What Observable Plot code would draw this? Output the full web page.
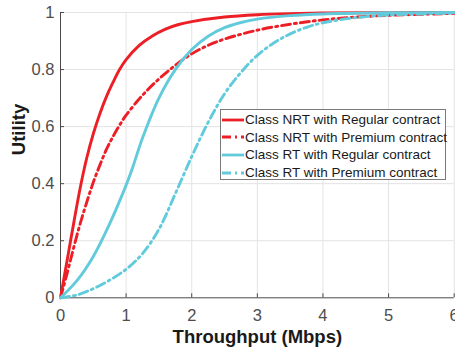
<!DOCTYPE html>
<html>
<head>
<meta charset="utf-8">
<script src="https://cdn.jsdelivr.net/npm/d3@7"></script>
<script src="https://cdn.jsdelivr.net/npm/@observablehq/plot@0.6"></script>
<style>
  html, body { margin: 0; padding: 0; background: #fff; }
  #wrap { position: relative; width: 455px; height: 348px; overflow: hidden; font-family: "Liberation Sans", Arial, sans-serif; }
  #legend { position: absolute; left: 220px; top: 109px; width: 226px; height: 71px; border: 1px solid #7a7a7a; background: #fff; box-sizing: border-box; padding-top: 1px; }
  .row { display: flex; align-items: center; height: 17.6px; font-size: 13.5px; color: #1a1a1a; white-space: nowrap; }
  .row svg { flex: none; margin-right: 1px; }
</style>
</head>
<body>
<div id="wrap"></div>
<script>
// Series names
const seriesNames = [
  "Class NRT with Regular contract",
  "Class NRT with Premium contract",
  "Class RT with Regular contract",
  "Class RT with Premium contract"
];
const seriesColors = ["#ed1f26", "#ed1f26", "#62cbdb", "#62cbdb"];
const seriesDash = [null, "9,4,2,4", null, "9,4,2,4"];

// NRT Regular
const nrtRegX = [0, 0.1, 0.2, 0.3, 0.4, 0.5, 0.6, 0.7, 0.8, 0.9, 1.0, 1.2, 1.4, 1.6, 1.8, 2.0, 2.5, 3, 3.5, 4, 5, 6];
const nrtRegY = [0, 0.13, 0.26, 0.385, 0.49, 0.575, 0.645, 0.705, 0.755, 0.80, 0.835, 0.885, 0.918, 0.942, 0.958, 0.968, 0.984, 0.992, 0.996, 0.998, 0.9995, 1.0];
// NRT Premium
const nrtPremX = [0, 0.1, 0.2, 0.3, 0.4, 0.5, 0.6, 0.7, 0.8, 0.9, 1.0, 1.25, 1.5, 1.75, 2, 2.25, 2.5, 3, 3.5, 4, 4.5, 5, 6];
const nrtPremY = [0, 0.085, 0.175, 0.26, 0.335, 0.405, 0.465, 0.52, 0.565, 0.605, 0.64, 0.71, 0.767, 0.815, 0.855, 0.885, 0.907, 0.938, 0.959, 0.974, 0.984, 0.99, 0.997];
// RT Regular
const rtRegX = [0, 0.25, 0.5, 0.75, 1, 1.1, 1.25, 1.5, 1.75, 2, 2.25, 2.5, 2.75, 3, 3.5, 4, 5, 6];
const rtRegY = [0, 0.06, 0.145, 0.26, 0.395, 0.457, 0.56, 0.70, 0.80, 0.87, 0.917, 0.947, 0.965, 0.977, 0.989, 0.995, 0.999, 1.0];
// RT Premium
const rtPremX = [0, 0.25, 0.5, 0.75, 1, 1.25, 1.5, 1.75, 2, 2.25, 2.5, 2.75, 3, 3.25, 3.5, 3.75, 4, 4.5, 5, 6];
const rtPremY = [0, 0.01, 0.032, 0.062, 0.10, 0.155, 0.24, 0.365, 0.495, 0.615, 0.715, 0.79, 0.85, 0.893, 0.925, 0.948, 0.964, 0.982, 0.991, 0.998];

const xTicks = [0, 1, 2, 3, 4, 5, 6];
const yTicks = [0, 0.2, 0.4, 0.6, 0.8, 1];
const yTickLabels = ["0", "0.2", "0.4", "0.6", "0.8", "1"];
const xLabel = "Throughput (Mbps)";
const yLabel = "Utility";

const seriesXs = [nrtRegX, nrtPremX, rtRegX, rtPremX];
const seriesYs = [nrtRegY, nrtPremY, rtRegY, rtPremY];
const data = seriesNames.map((name, i) => seriesXs[i].map((x, j) => ({x, y: seriesYs[i][j], name})));

const gridColor = "#e3e3e3";
const axisColor = "#4a4a4a";
const tickTextColor = "#4d4d4d";

const lineMarks = data.map((d, i) => Plot.line(d, {
  x: "x", y: "y", stroke: seriesColors[i], strokeWidth: 2.9,
  strokeDasharray: seriesDash[i] || undefined, curve: "catmull-rom"
}));

const chart = Plot.plot({
  width: 455,
  height: 348,
  marginLeft: 60,
  marginRight: 1.3,
  marginTop: 12,
  marginBottom: 50.7,
  style: {fontFamily: "'Liberation Sans', Arial, sans-serif", background: "#fff"},
  x: {domain: [0, 6]},
  y: {domain: [0, 1]},
  marks: [
    Plot.gridX(xTicks.slice(1), {stroke: gridColor, strokeOpacity: 1}),
    Plot.gridY(yTicks.slice(1), {stroke: gridColor, strokeOpacity: 1}),
    Plot.axisX(xTicks, {tickSize: -4, tickPadding: 15, stroke: axisColor, fill: tickTextColor, fontSize: 16.5, label: null, tickFormat: d => String(d)}),
    Plot.axisY(yTicks, {tickSize: -4, tickPadding: 10, stroke: axisColor, fill: tickTextColor, fontSize: 16.5, label: null, tickFormat: (d, i) => yTickLabels[i]}),
    Plot.ruleY([0], {stroke: axisColor, strokeWidth: 1}),
    Plot.ruleX([0], {stroke: axisColor, strokeWidth: 1}),
    ...lineMarks,
    Plot.text([xLabel], {frameAnchor: "bottom", dy: 45, fontWeight: "bold", fontSize: 18.5, fill: "#1a1a1a"}),
    Plot.text([yLabel], {frameAnchor: "left", dx: -41, rotate: -90, fontWeight: "bold", fontSize: 18.5, fill: "#1a1a1a"})
  ]
});

const wrap = document.getElementById("wrap");
wrap.appendChild(chart);

// Legend
const legend = document.createElement("div");
legend.id = "legend";
seriesNames.forEach((name, i) => {
  const row = document.createElement("div");
  row.className = "row";
  const dash = seriesDash[i] ? `stroke-dasharray="${seriesDash[i]}"` : "";
  row.innerHTML = `<svg width="23" height="10"><line x1="1" x2="23" y1="5" y2="5" stroke="${seriesColors[i]}" stroke-width="2.8" ${dash}/></svg><span>${name}</span>`;
  legend.appendChild(row);
});
wrap.appendChild(legend);
</script>
</body>
</html>
